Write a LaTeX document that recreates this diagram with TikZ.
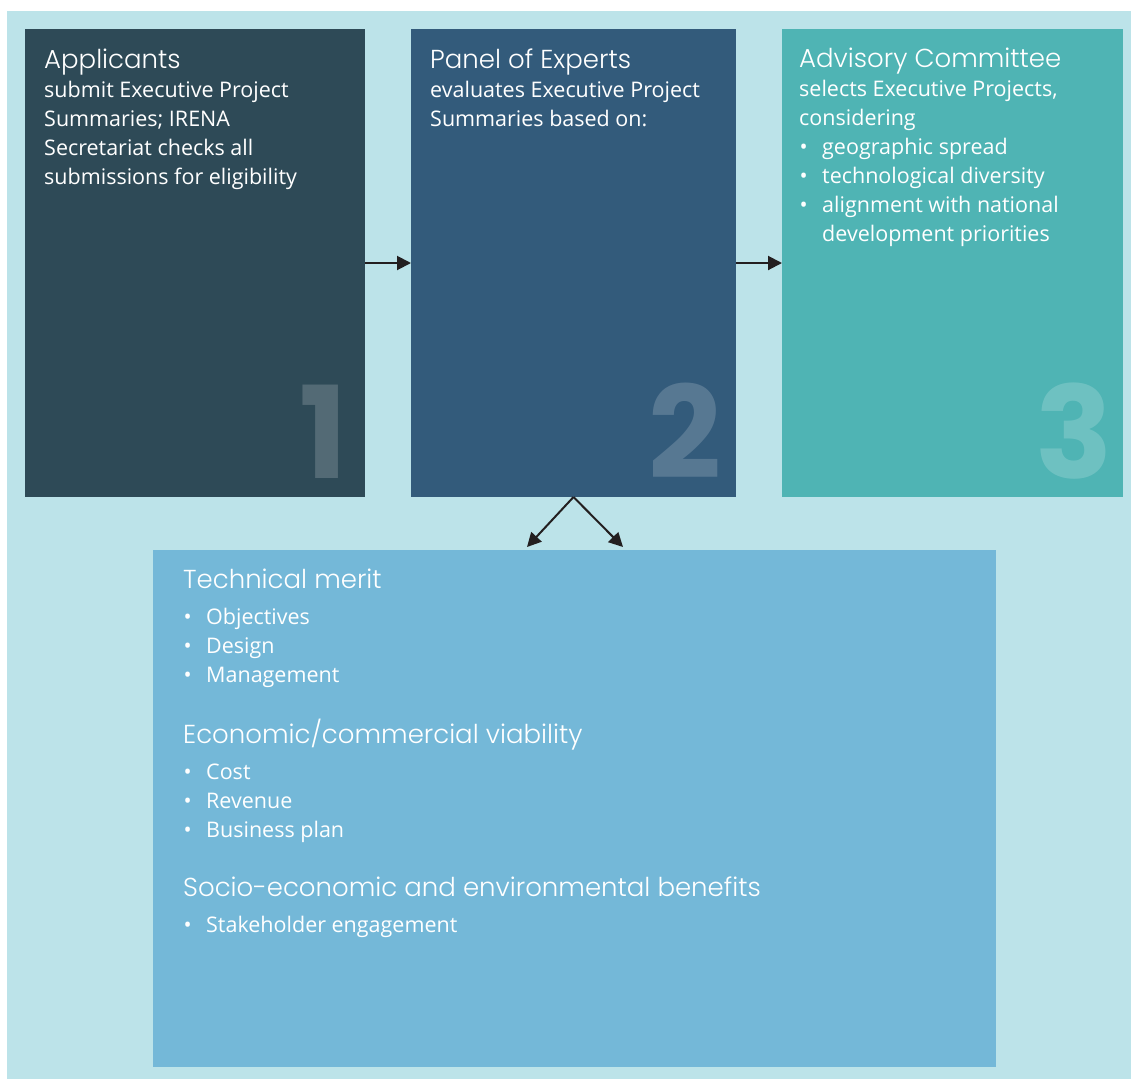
\documentclass[tikz,border=0pt]{standalone}
\usepackage{fontspec}
\setmainfont{Open Sans}
\newfontfamily\headfont{Poppins Light}
\newfontfamily\numfont{Poppins}
\usetikzlibrary{arrows.meta,positioning}
\definecolor{bgcyan}{HTML}{BCE3E9}
\definecolor{slate}{HTML}{2E4A57}
\definecolor{navy}{HTML}{335B7B}
\definecolor{lagoon}{HTML}{4FB4B4}
\definecolor{sky}{HTML}{74B8D8}
\definecolor{ink}{HTML}{231F20}
\newcommand\hd[1]{{\headfont\fontsize{26}{29}\selectfont #1}}
\newcommand\bul{\makebox[23pt][l]{\hspace{0.5pt}\textbullet}}

\begin{document}
\begin{tikzpicture}[x=1pt,y=-1pt,
	stage/.style={fill=#1, inner sep=0pt, outer sep=0pt},
	txt/.style={text=white, align=left, inner sep=0pt, anchor=base west,
		font=\fontsize{21.5}{29}\selectfont},
	num/.style={text=white, text opacity=0.18, inner sep=0pt,
		anchor=south east, font=\numfont\bfseries\fontsize{128}{128}\selectfont},
	flow/.style={draw=ink, line width=2pt, -{Triangle[length=14pt,width=14pt]}}]
	\useasboundingbox (0,0) rectangle (1131,1079);
	\fill[bgcyan] (7,11) rectangle (1131,1079);
	% the three stages
	\node[stage=slate, minimum width=340pt, minimum height=468pt] (apply) at (195,263) {};
	\node[stage=navy, minimum width=325pt, minimum height=468pt] (panel) at (573.5,263) {};
	\node[stage=lagoon, minimum width=341pt, minimum height=468pt] (advis) at (952.5,263) {};
	\node[stage=sky, minimum width=843pt, minimum height=517pt] (crit) at (574.5,808.5) {};
	% big numbers
	\node[num] (n1) at (348,479) {1};
	\node[num] (n2) at (722,479) {2};
	\node[num] (n3) at (1113,479) {3};
	% texts (placed by the baseline of their last line)
	\node[txt] (applytxt) at (44,184) {\hd{Applicants}\\
		submit Executive Project\\
		Summaries; IRENA\\
		Secretariat checks all\\
		submissions for eligibility};
	\node[txt] (paneltxt) at (430,126) {\hd{Panel of Experts}\\
		evaluates Executive Project\\
		Summaries based on:};
	\node[txt] (advistxt) at (799,241) {\hd{Advisory Committee}\\
		selects Executive Projects,\\
		considering\\
		\bul geographic spread\\
		\bul technological diversity\\
		\bul alignment with national\\
		\hspace*{23pt}development priorities};
	\node[txt] (crittxt) at (183,932) {\hd{Technical merit}\\[7pt]
		\bul Objectives\\
		\bul Design\\
		\bul Management\\[30pt]
		\hd{Economic/commercial viability}\\[7pt]
		\bul Cost\\
		\bul Revenue\\
		\bul Business plan\\[30pt]
		\hd{Socio-economic and environmental benefits}\\[7pt]
		\bul Stakeholder engagement};
	% arrows
	\coordinate (tipl) at (527,547);
	\coordinate (tipr) at (623,547);
	\draw[flow] (apply.east) -- (panel.west);
	\draw[flow] (panel.east) -- (advis.west);
	\draw[flow] (panel.south) -- (tipl);
	\draw[flow] (panel.south) -- (tipr);
\end{tikzpicture}
\end{document}
